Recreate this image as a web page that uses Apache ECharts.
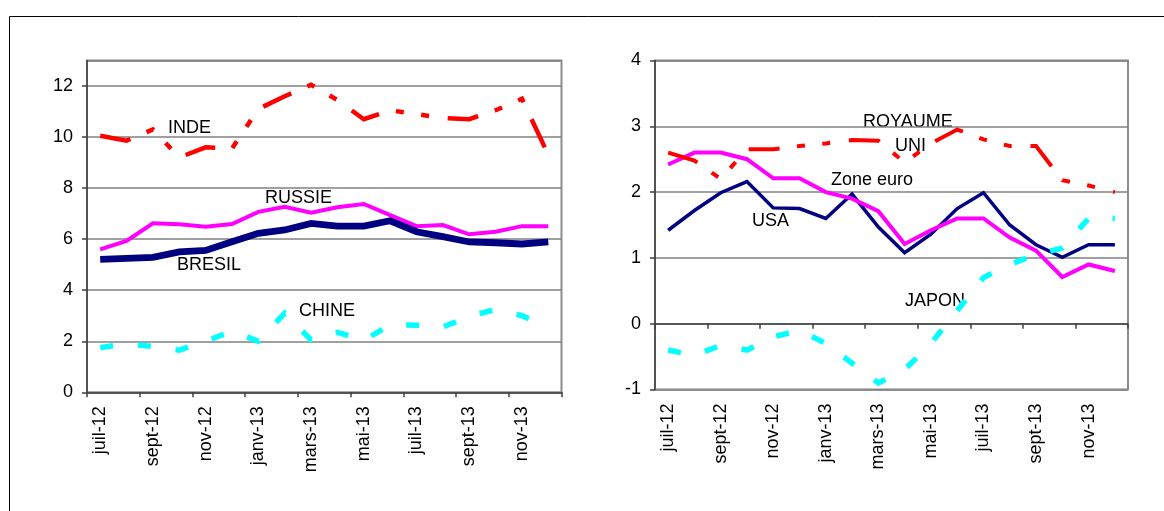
<!DOCTYPE html>
<html>
<head>
<meta charset="utf-8">
<script src="https://cdn.jsdelivr.net/npm/echarts@6/dist/echarts.min.js"></script>
<style>
html,body{margin:0;padding:0;background:#fff;}
#c{width:1164px;height:511px;}
</style>
</head>
<body>
<div id="c"></div>
<script>
// Categories (months)
const months = ['juil-12','août-12','sept-12','oct-12','nov-12','déc-12','janv-13','févr-13','mars-13','avr-13','mai-13','juin-13','juil-13','août-13','sept-13','oct-13','nov-13','déc-13'];

// Left chart series
const inde   = [10.05, 9.86, 10.3, 9.2, 9.6, 9.55, 11.1, 11.6, 12.05, 11.45, 10.7, 11.05, 10.9, 10.75, 10.7, 11.05, 11.5, 9.3];
const russie = [5.6, 5.93, 6.62, 6.58, 6.49, 6.59, 7.07, 7.27, 7.04, 7.25, 7.38, 6.94, 6.51, 6.55, 6.19, 6.29, 6.51, 6.51];
const bresil = [5.21, 5.25, 5.29, 5.5, 5.56, 5.9, 6.23, 6.36, 6.62, 6.51, 6.51, 6.72, 6.29, 6.1, 5.89, 5.86, 5.81, 5.89];
const chine  = [1.75, 1.9, 1.8, 1.65, 2.0, 2.4, 2.0, 3.1, 2.05, 2.35, 2.03, 2.65, 2.63, 2.56, 2.97, 3.25, 3.0, 2.55];

// Right chart series
const usa       = [1.42, 1.72, 1.99, 2.16, 1.76, 1.75, 1.6, 1.97, 1.47, 1.08, 1.36, 1.75, 1.99, 1.5, 1.2, 1.01, 1.2, 1.2];
const zoneEuro  = [2.42, 2.6, 2.6, 2.5, 2.21, 2.21, 2.0, 1.9, 1.71, 1.21, 1.42, 1.6, 1.6, 1.31, 1.11, 0.71, 0.9, 0.8];
const royaumeUni= [2.6, 2.48, 2.2, 2.65, 2.65, 2.7, 2.74, 2.79, 2.78, 2.45, 2.74, 2.95, 2.8, 2.7, 2.7, 2.18, 2.1, 2.0];
const japon     = [-0.4, -0.48, -0.33, -0.4, -0.2, -0.1, -0.3, -0.6, -0.9, -0.7, -0.3, 0.2, 0.7, 0.9, 1.05, 1.15, 1.6, 1.6];

// Axis settings
const leftAxis  = {min: 0, max: 13, interval: 2};
const rightAxis = {min: -1, max: 4, interval: 1};

const FONT = '"Liberation Sans", Arial, sans-serif';
const GRIDC = '#808080';
const AXC = '#404040';

const chart = echarts.init(document.getElementById('c'), null, {renderer: 'canvas'});

function catAxis(gridIndex, opts) {
  return Object.assign({
    type: 'category', gridIndex, data: months, boundaryGap: true,
    axisLine: {show: true, onZero: false, lineStyle: {color: AXC, width: 1.5}},
    axisTick: {show: true, interval: 1, length: 5, inside: false, lineStyle: {color: AXC, width: 1.5}},
    axisLabel: {show: true, interval: 1, rotate: 90, margin: 14, color: '#000', fontSize: 18, fontFamily: FONT},
    splitLine: {show: false}
  }, opts || {});
}
function valAxis(gridIndex, a) {
  return {
    type: 'value', gridIndex, min: a.min, max: a.max, interval: a.interval,
    axisLine: {show: true, lineStyle: {color: AXC, width: 1.5}},
    axisTick: {show: true, length: 5, lineStyle: {color: AXC, width: 1.5}},
    axisLabel: {show: true, margin: 14, color: '#000', fontSize: 18, fontFamily: FONT, showMaxLabel: a.max % a.interval === 0},
    splitLine: {show: true, lineStyle: {color: GRIDC, width: 1.5}}
  };
}
const dash1 = [31, 17.5, 8, 17.5, 8, 18.8];
const dot1 = [13, 25];
function line(name, data, xi, yi, color, width, type) {
  return {
    name, type: 'line', data, xAxisIndex: xi, yAxisIndex: yi,
    showSymbol: false, symbol: 'none', smooth: false, animation: false,
    lineStyle: {color, width, type: type || 'solid', cap: 'butt', join: 'miter'},
    emphasis: {disabled: true}
  };
}

const labelStyle = (text, x, y) => ({
  type: 'text', x, y, silent: true,
  style: {text, fill: '#000', font: '18px ' + FONT, textAlign: 'left', textVerticalAlign: 'middle'}
});

chart.setOption({
  backgroundColor: '#fff',
  animation: false,
  grid: [
    {left: 87, top: 60.5, width: 474.5, height: 331.8, show: true, borderColor: '#8c8c8c', borderWidth: 2, containLabel: false},
    {left: 655, top: 60.5, width: 473, height: 329, show: true, borderColor: '#8c8c8c', borderWidth: 2, containLabel: false}
  ],
  xAxis: [
    catAxis(0),
    catAxis(1, {axisLine: {show: true, onZero: true, lineStyle: {color: AXC, width: 1.5}}, axisLabel: {show: false}}),
    catAxis(1, {axisLine: {show: false, onZero: false}, axisTick: {show: false}, position: 'bottom'})
  ],
  yAxis: [valAxis(0, leftAxis), valAxis(1, rightAxis)],
  series: [
    line('INDE', inde, 0, 0, '#ff0000', 4.5, dash1),
    line('RUSSIE', russie, 0, 0, '#ff00ff', 4),
    line('BRESIL', bresil, 0, 0, '#000080', 6.8),
    line('CHINE', chine, 0, 0, '#00ffff', 5.5, dot1),
    line('USA', usa, 1, 1, '#000080', 3.5),
    line('Zone euro', zoneEuro, 1, 1, '#ff00ff', 4),
    line('ROYAUME UNI', royaumeUni, 1, 1, '#ff0000', 4, dash1),
    line('JAPON', japon, 1, 1, '#00ffff', 5.5, dot1)
  ],
  graphic: [
    {type: 'rect', silent: true, shape: {x: 9.5, y: 16.5, width: 1300, height: 600}, style: {fill: 'none', stroke: '#000', lineWidth: 1}},
    labelStyle('INDE', 168, 128.5),
    labelStyle('RUSSIE', 265, 198),
    labelStyle('BRESIL', 177, 265),
    labelStyle('CHINE', 299, 311.5),
    labelStyle('ROYAUME', 863, 122),
    labelStyle('UNI', 895, 146),
    labelStyle('Zone euro', 831, 180),
    labelStyle('USA', 752, 221),
    labelStyle('JAPON', 905, 301.5)
  ]
});
</script>
</body>
</html>
